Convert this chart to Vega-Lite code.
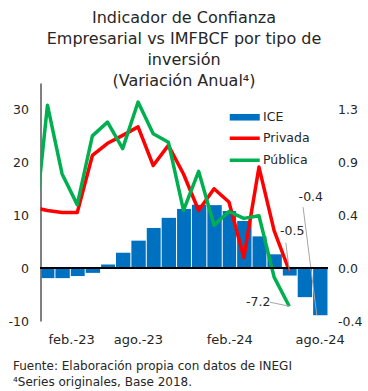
{
  "$schema": "https://vega.github.io/schema/vega-lite/v6.json",
  "width": 287,
  "height": 238,
  "autosize": {"type": "none"},
  "padding": {"left": 40.5, "top": 83, "right": 40.5, "bottom": 70},
  "background": "white",
  "title": {
    "text": ["Indicador de Confianza", "Empresarial vs IMFBCF por tipo de", "inversión", "(Variación Anual⁴)"],
    "fontSize": 16, "font": "DejaVu Sans", "fontWeight": "normal", "lineHeight": 21,
    "anchor": "middle", "frame": "group", "offset": -6, "color": "#262626"
  },
  "config": {
    "font": "DejaVu Sans",
    "locale": {"number": {"decimal": ".", "thousands": ",", "grouping": [3], "currency": ["$", ""], "minus": "-"}},
    "view": {"stroke": null},
    "axis": {"grid": false, "labelFont": "DejaVu Sans", "labelFontSize": 12.5, "labelColor": "#262626"},
    "legend": {"labelFont": "DejaVu Sans", "labelFontSize": 12.5, "labelColor": "#262626"}
  },
  "datasets": {
    "ice": [
      {"date": "2023-02-01", "serie": "ICE", "value": -0.082},
      {"date": "2023-03-01", "serie": "ICE", "value": -0.082},
      {"date": "2023-04-01", "serie": "ICE", "value": -0.065},
      {"date": "2023-05-01", "serie": "ICE", "value": -0.039},
      {"date": "2023-06-01", "serie": "ICE", "value": 0.030},
      {"date": "2023-07-01", "serie": "ICE", "value": 0.126},
      {"date": "2023-08-01", "serie": "ICE", "value": 0.225},
      {"date": "2023-09-01", "serie": "ICE", "value": 0.329},
      {"date": "2023-10-01", "serie": "ICE", "value": 0.412},
      {"date": "2023-11-01", "serie": "ICE", "value": 0.485},
      {"date": "2023-12-01", "serie": "ICE", "value": 0.520},
      {"date": "2024-01-01", "serie": "ICE", "value": 0.516},
      {"date": "2024-02-01", "serie": "ICE", "value": 0.468},
      {"date": "2024-03-01", "serie": "ICE", "value": 0.386},
      {"date": "2024-04-01", "serie": "ICE", "value": 0.260},
      {"date": "2024-05-01", "serie": "ICE", "value": 0.113},
      {"date": "2024-06-01", "serie": "ICE", "value": -0.061},
      {"date": "2024-07-01", "serie": "ICE", "value": -0.238},
      {"date": "2024-08-01", "serie": "ICE", "value": -0.386}
    ],
    "lines": [
      {"date": "2023-01-01", "serie": "Privada", "value": 11.5},
      {"date": "2023-02-01", "serie": "Privada", "value": 10.9},
      {"date": "2023-03-01", "serie": "Privada", "value": 10.5},
      {"date": "2023-04-01", "serie": "Privada", "value": 10.5},
      {"date": "2023-05-01", "serie": "Privada", "value": 21.3},
      {"date": "2023-06-01", "serie": "Privada", "value": 23.6},
      {"date": "2023-07-01", "serie": "Privada", "value": 25.1},
      {"date": "2023-08-01", "serie": "Privada", "value": 26.7},
      {"date": "2023-09-01", "serie": "Privada", "value": 19.4},
      {"date": "2023-10-01", "serie": "Privada", "value": 23.2},
      {"date": "2023-11-01", "serie": "Privada", "value": 17.8},
      {"date": "2023-12-01", "serie": "Privada", "value": 10.9},
      {"date": "2024-01-01", "serie": "Privada", "value": 15.0},
      {"date": "2024-02-01", "serie": "Privada", "value": 12.5},
      {"date": "2024-03-01", "serie": "Privada", "value": 2.0},
      {"date": "2024-04-01", "serie": "Privada", "value": 19.1},
      {"date": "2024-05-01", "serie": "Privada", "value": 7.1},
      {"date": "2024-06-01", "serie": "Privada", "value": -0.5},
      {"date": "2023-01-01", "serie": "Pública", "value": 4.2},
      {"date": "2023-02-01", "serie": "Pública", "value": 30.8},
      {"date": "2023-03-01", "serie": "Pública", "value": 17.8},
      {"date": "2023-04-01", "serie": "Pública", "value": 12.0},
      {"date": "2023-05-01", "serie": "Pública", "value": 25.0},
      {"date": "2023-06-01", "serie": "Pública", "value": 27.6},
      {"date": "2023-07-01", "serie": "Pública", "value": 22.6},
      {"date": "2023-08-01", "serie": "Pública", "value": 31.4},
      {"date": "2023-09-01", "serie": "Pública", "value": 25.4},
      {"date": "2023-10-01", "serie": "Pública", "value": 23.8},
      {"date": "2023-11-01", "serie": "Pública", "value": 10.9},
      {"date": "2023-12-01", "serie": "Pública", "value": 18.3},
      {"date": "2024-01-01", "serie": "Pública", "value": 8.1},
      {"date": "2024-02-01", "serie": "Pública", "value": 10.7},
      {"date": "2024-03-01", "serie": "Pública", "value": 9.4},
      {"date": "2024-04-01", "serie": "Pública", "value": 9.9},
      {"date": "2024-05-01", "serie": "Pública", "value": -1.7},
      {"date": "2024-06-01", "serie": "Pública", "value": -7.2}
    ],
    "ticks": [
      {"date": "2023-08-01"},
      {"date": "2024-02-01"},
      {"date": "2024-08-01"}
    ]
  },
  "layer": [
    {
      "data": {"name": "ice"},
      "encoding": {
        "x": {"field": "date", "type": "temporal", "timeUnit": "utcyearmonth", "bandPosition": 0.5},
        "y": {"field": "value", "type": "quantitative",
              "scale": {"domain": [-0.4333, 1.5167], "nice": false, "zero": false},
              "axis": {"orient": "right", "values": [-0.4333, 0, 0.4333, 0.8667, 1.3], "format": ".1f", "domain": false, "ticks": false, "labelPadding": 10, "title": null}}
      },
      "layer": [
        {
          "mark": {"type": "bar", "timeUnitBandSize": 0.82},
          "encoding": {
            "x": {"field": "date", "type": "temporal", "timeUnit": "utcyearmonth",
                  "scale": {"type": "utc", "domain": [{"year": 2023, "month": 2, "date": 1, "utc": true}, {"year": 2024, "month": 9, "date": 1, "utc": true}]},
                  "axis": {"orient": "bottom", "values": [{"year": 2023, "month": 2, "date": 1, "utc": true}, {"year": 2023, "month": 8, "date": 1, "utc": true}, {"year": 2024, "month": 2, "date": 1, "utc": true}, {"year": 2024, "month": 8, "date": 1, "utc": true}],
                           "labelExpr": "['ene','feb','mar','abr','may','jun','jul','ago','sep','oct','nov','dic'][utcmonth(datum.value)] + '.-' + utcFormat(datum.value, '%y')",
                           "labelOffset": 7.5, "domain": false, "ticks": false, "grid": false, "labelPadding": 12, "labelFontSize": 13,
                           "title": ["Fuente: Elaboración propia con datos de INEGI", "⁴Series originales, Base 2018."],
                           "titleFont": "DejaVu Sans", "titleFontWeight": "normal", "titleFontSize": 12, "titleColor": "#262626",
                           "titleAlign": "left", "titleAnchor": "start", "titleBaseline": "top", "titleX": -28, "titleY": 39, "titleLineHeight": 16.5}},
            "color": {"field": "serie", "type": "nominal",
                      "scale": {"domain": ["ICE", "Privada", "Pública"], "range": ["#0070C0", "#FF0000", "#00B050"]},
                      "legend": {"orient": "none", "legendX": 198, "legendY": 28, "title": null, "symbolSize": 100, "labelOffset": 12, "rowPadding": 7,
                                 "encode": {"symbols": {"update": {
                                   "shape": {"signal": "datum.value === 'ICE' ? 'M-3,-0.66H3V0.66H-3Z' : 'M-3,0H3'"},
                                   "fill": {"signal": "datum.value === 'ICE' ? '#0070C0' : 'transparent'"},
                                   "stroke": {"scale": "color", "field": "value"},
                                   "strokeWidth": {"signal": "datum.value === 'ICE' ? 0 : 3.5"},
                                   "opacity": {"value": 1}
                                 }}}}}
          }
        },
        {
          "transform": [{"filter": "utcmonth(datum.date) === 7 && utcyear(datum.date) === 2024"}],
          "mark": {"type": "rule", "color": "#A6A6A6", "strokeWidth": 1, "xOffset": -3, "x2Offset": -9, "y2Offset": -108},
          "encoding": {"x2": {"field": "date", "timeUnit": "utcyearmonth", "bandPosition": 0.5}, "y2": {"field": "value"}}
        },
        {
          "transform": [{"filter": "utcmonth(datum.date) === 7 && utcyear(datum.date) === 2024"}],
          "mark": {"type": "text", "dx": -9, "dy": -118, "fontSize": 12.5, "color": "#262626", "baseline": "middle"},
          "encoding": {"text": {"field": "value", "type": "quantitative", "format": ".1f"}}
        }
      ]
    },
    {
      "data": {"name": "lines"},
      "encoding": {
        "y": {"field": "value", "type": "quantitative",
              "scale": {"domain": [-10, 35], "nice": false, "zero": false},
              "axis": {"orient": "left", "values": [-10, 0, 10, 20, 30], "domain": true, "domainColor": "black", "ticks": false, "labelPadding": 12, "title": null}}
      },
      "layer": [
        {
          "mark": {"type": "line", "strokeWidth": 3.5, "strokeJoin": "round", "clip": true},
          "encoding": {
            "x": {"field": "date", "type": "temporal", "timeUnit": "utcyearmonth", "bandPosition": 0.5},
            "color": {"field": "serie", "type": "nominal"}
          }
        },
        {
          "mark": {"type": "rule", "color": "black", "strokeWidth": 1},
          "encoding": {"y": {"datum": 0, "type": "quantitative"}}
        },
        {
          "data": {"name": "ticks"},
          "mark": {"type": "tick", "orient": "vertical", "size": 8, "thickness": 1, "color": "black"},
          "encoding": {
            "x": {"field": "date", "type": "temporal"},
            "y": {"datum": 0, "type": "quantitative"}
          }
        },
        {
          "transform": [{"filter": "utcmonth(datum.date) === 5 && utcyear(datum.date) === 2024 && datum.serie === 'Privada'"}],
          "encoding": {
            "x": {"field": "date", "type": "temporal", "timeUnit": "utcyearmonth", "bandPosition": 0.5}
          },
          "layer": [
            {
              "mark": {"type": "rule", "color": "#A6A6A6", "strokeWidth": 1, "x2Offset": 4, "y2Offset": -28},
              "encoding": {
                "x2": {"field": "date", "timeUnit": "utcyearmonth", "bandPosition": 0.5},
                "y2": {"field": "value"}
              }
            },
            {
              "mark": {"type": "text", "dx": 3, "dy": -40, "fontSize": 12.5, "color": "#262626", "baseline": "middle"},
              "encoding": {
                "text": {"field": "value", "type": "quantitative", "format": ".1f"}
              }
            }
          ]
        },
        {
          "transform": [{"filter": "utcmonth(datum.date) === 5 && utcyear(datum.date) === 2024 && datum.serie === 'Pública'"}],
          "encoding": {
            "x": {"field": "date", "type": "temporal", "timeUnit": "utcyearmonth", "bandPosition": 0.5}
          },
          "layer": [
            {
              "mark": {"type": "rule", "color": "#A6A6A6", "strokeWidth": 1, "x2Offset": -12, "y2Offset": -4},
              "encoding": {
                "x2": {"field": "date", "timeUnit": "utcyearmonth", "bandPosition": 0.5},
                "y2": {"field": "value"}
              }
            },
            {
              "mark": {"type": "text", "dx": -31, "dy": -4, "fontSize": 12.5, "color": "#262626", "baseline": "middle"},
              "encoding": {
                "text": {"field": "value", "type": "quantitative", "format": ".1f"}
              }
            }
          ]
        }
      ]
    }
  ],
  "resolve": {"scale": {"y": "independent"}, "axis": {"y": "independent"}}
}
